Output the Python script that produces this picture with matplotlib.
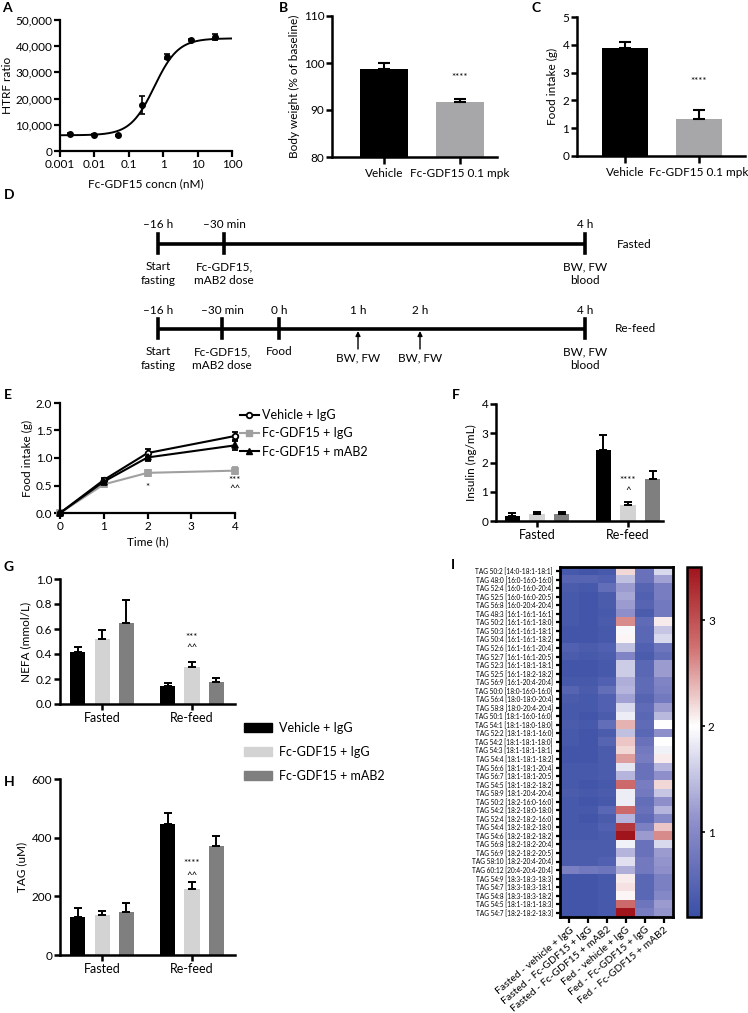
import numpy as np
import matplotlib.pyplot as plt
from matplotlib.colors import LinearSegmentedColormap, Normalize
from matplotlib.ticker import FuncFormatter
from matplotlib.lines import Line2D
from matplotlib.patches import Patch

plt.rcParams['font.family'] = ['Lato', 'DejaVu Sans']
plt.rcParams['font.size'] = 8.5

# ---------------- data ----------------
# A: HTRF dose response
conc_nM = [0.002, 0.01, 0.05, 0.25, 1.25, 6.25, 31.25]
htrf = [6500, 6200, 6000, 17500, 36000, 42500, 43500]
htrf_err = [300, 200, 200, 3500, 1000, 300, 1000]
fit_bottom, fit_top, fit_ec50, fit_hill = 6000, 43000, 0.55, 1.25

# B, C: body weight and food intake
bc_groups = ['Vehicle', 'Fc-GDF15 0.1 mpk']
body_weight = [98.7, 91.7]
body_weight_err = [1.3, 0.6]
food_intake = [3.9, 1.33]
food_intake_err = [0.2, 0.33]

# D: timeline labels
fasted_top = ['\u201316 h', '\u201330 min', '4 h']
fasted_bottom = ['Start\nfasting', 'Fc-GDF15,\nmAB2 dose', 'BW, FW\nblood']
refeed_top = ['\u201316 h', '\u201330 min', '0 h', '1 h', '2 h', '4 h']
refeed_bottom = ['Start\nfasting', 'Fc-GDF15,\nmAB2 dose', 'Food', 'BW, FW', 'BW, FW', 'BW, FW\nblood']

# E: food intake over time
time_h = [0, 1, 2, 4]
treatments = ['Vehicle + IgG', 'Fc-GDF15 + IgG', 'Fc-GDF15 + mAB2']
fi_vehicle = [0, 0.60, 1.09, 1.40]
fi_vehicle_err = [0, 0.04, 0.07, 0.08]
fi_gdf15 = [0, 0.52, 0.73, 0.77]
fi_gdf15_err = [0, 0.05, 0.06, 0.06]
fi_mab2 = [0, 0.57, 1.01, 1.23]
fi_mab2_err = [0, 0.04, 0.07, 0.08]

# F, G, H: grouped bars (Fasted, Re-feed) x treatments
conditions = ['Fasted', 'Re-feed']
insulin = [[0.18, 2.43], [0.25, 0.55], [0.25, 1.45]]
insulin_err = [[0.10, 0.50], [0.07, 0.10], [0.07, 0.25]]
nefa = [[0.415, 0.145], [0.52, 0.295], [0.65, 0.175]]
nefa_err = [[0.04, 0.025], [0.07, 0.045], [0.18, 0.03]]
tag = [[130, 447], [135, 225], [148, 370]]
tag_err = [[30, 38], [15, 25], [30, 35]]

# I: heatmap
tag_species = [
    'TAG 50:2 [14:0-18:1-18:1]', 'TAG 48:0 [16:0-16:0-16:0]', 'TAG 52:4 [16:0-16:0-20:4]',
    'TAG 52:5 [16:0-16:0-20:5]', 'TAG 56:8 [16:0-20:4-20:4]', 'TAG 48:3 [16:1-16:1-16:1]',
    'TAG 50:2 [16:1-16:1-18:0]', 'TAG 50:3 [16:1-16:1-18:1]', 'TAG 50:4 [16:1-16:1-18:2]',
    'TAG 52:6 [16:1-16:1-20:4]', 'TAG 52:7 [16:1-16:1-20:5]', 'TAG 52:3 [16:1-18:1-18:1]',
    'TAG 52:5 [16:1-18:2-18:2]', 'TAG 56:9 [16:1-20:4-20:4]', 'TAG 50:0 [18:0-16:0-16:0]',
    'TAG 56:4 [18:0-18:0-20:4]', 'TAG 58:8 [18:0-20:4-20:4]', 'TAG 50:1 [18:1-16:0-16:0]',
    'TAG 54:1 [18:1-18:0-18:0]', 'TAG 52:2 [18:1-18:1-16:0]', 'TAG 54:2 [18:1-18:1-18:0]',
    'TAG 54:3 [18:1-18:1-18:1]', 'TAG 54:4 [18:1-18:1-18:2]', 'TAG 56:6 [18:1-18:1-20:4]',
    'TAG 56:7 [18:1-18:1-20:5]', 'TAG 54:5 [18:1-18:2-18:2]', 'TAG 58:9 [18:1-20:4-20:4]',
    'TAG 50:2 [18:2-16:0-16:0]', 'TAG 54:2 [18:2-18:0-18:0]', 'TAG 52:4 [18:2-18:2-16:0]',
    'TAG 54:4 [18:2-18:2-18:0]', 'TAG 54:6 [18:2-18:2-18:2]', 'TAG 56:8 [18:2-18:2-20:4]',
    'TAG 56:9 [18:2-18:2-20:5]', 'TAG 58:10 [18:2-20:4-20:4]', 'TAG 60:12 [20:4-20:4-20:4]',
    'TAG 54:9 [18:3-18:3-18:3]', 'TAG 54:7 [18:3-18:3-18:1]', 'TAG 54:8 [18:3-18:3-18:2]',
    'TAG 54:5 [18:1-18:1-18:3]', 'TAG 54:7 [18:2-18:2-18:3]']
heat_groups = ['Fasted - vehicle + IgG', 'Fasted - Fc-GDF15 + IgG', 'Fasted - Fc-GDF15 + mAB2',
               'Fed - vehicle + IgG', 'Fed - Fc-GDF15 + IgG', 'Fed - Fc-GDF15 + mAB2']
h_fast_veh = [0.35, 0.50, 0.40, 0.35, 0.35, 0.35, 0.35, 0.30, 0.30, 0.45, 0.40, 0.30, 0.30, 0.35,
              0.50, 0.40, 0.35, 0.35, 0.40, 0.35, 0.35, 0.30, 0.30, 0.35, 0.35, 0.35, 0.40, 0.35,
              0.35, 0.35, 0.35, 0.35, 0.40, 0.40, 0.40, 0.90, 0.30, 0.30, 0.30, 0.30, 0.30]
h_fast_gdf = [0.30, 0.50, 0.35, 0.30, 0.30, 0.30, 0.30, 0.30, 0.30, 0.40, 0.35, 0.30, 0.30, 0.35,
              0.40, 0.35, 0.35, 0.30, 0.35, 0.30, 0.30, 0.30, 0.30, 0.35, 0.35, 0.30, 0.35, 0.30,
              0.35, 0.30, 0.35, 0.35, 0.40, 0.40, 0.40, 0.80, 0.30, 0.30, 0.30, 0.30, 0.30]
h_fast_mab = [0.35, 0.45, 0.65, 0.40, 0.40, 0.35, 0.40, 0.35, 0.35, 0.45, 0.40, 0.35, 0.35, 0.45,
              0.65, 0.45, 0.45, 0.40, 0.65, 0.40, 0.50, 0.40, 0.40, 0.40, 0.40, 0.35, 0.40, 0.35,
              0.55, 0.40, 0.45, 0.40, 0.40, 0.40, 0.45, 0.75, 0.35, 0.35, 0.35, 0.35, 0.35]
h_fed_veh = [2.20, 1.50, 1.20, 1.30, 1.20, 1.10, 2.60, 1.95, 2.05, 1.50, 0.95, 1.60, 1.60, 1.35,
             1.40, 1.25, 1.70, 1.85, 2.40, 1.50, 2.30, 2.20, 2.50, 1.80, 1.40, 2.80, 1.85, 1.85,
             2.80, 1.40, 3.20, 3.50, 1.90, 1.40, 1.75, 1.35, 2.10, 2.15, 2.05, 2.80, 3.50]
h_fed_gdf = [0.70, 0.70, 0.50, 0.45, 0.50, 0.40, 0.60, 0.55, 0.55, 0.45, 0.40, 0.55, 0.55, 0.60,
             0.60, 0.50, 0.60, 0.55, 0.60, 0.55, 0.70, 0.80, 0.85, 0.70, 0.70, 0.85, 0.80, 0.65,
             0.70, 0.60, 0.90, 1.20, 0.70, 0.70, 0.80, 0.80, 0.55, 0.55, 0.55, 0.75, 0.85]
h_fed_mab = [1.70, 1.25, 0.85, 0.85, 0.80, 0.80, 2.10, 1.55, 1.70, 0.75, 0.65, 1.20, 1.20, 0.95,
             0.90, 0.80, 1.20, 1.45, 2.00, 1.10, 2.00, 1.90, 2.10, 1.40, 1.10, 2.20, 1.55, 1.10,
             1.40, 1.00, 2.30, 2.60, 1.70, 1.20, 1.15, 1.10, 0.90, 0.90, 1.00, 1.20, 1.15]

# ---------------- figure ----------------
W, H = 748, 1013
fig = plt.figure(figsize=(W / 100, H / 100), dpi=100)
TICK_FS = 8.5
LAB_FS = 8.5
STAR_FS = 7

def add_ax(x0, y0, x1, y1):
    return fig.add_axes([x0 / W, 1 - y1 / H, (x1 - x0) / W, (y1 - y0) / H])

def style(ax, lw=1.6):
    for s in ['top', 'right']:
        ax.spines[s].set_visible(False)
    for s in ['left', 'bottom']:
        ax.spines[s].set_linewidth(lw)
    ax.tick_params(width=lw, length=4, labelsize=TICK_FS, pad=1.5)

def letter(x, y, s):
    fig.text(x / W, 1 - y / H, s, fontsize=10, fontweight='bold', va='center', ha='left')

bar_colors = ['#000000', '#d3d3d3', '#7f7f7f']

# ---- A ----
ax = add_ax(60, 20, 232, 151)
style(ax)
xs = np.logspace(-3, 2, 300)
ax.plot(xs, fit_bottom + (fit_top - fit_bottom) / (1 + (fit_ec50 / xs) ** fit_hill),
        color='black', lw=1.4)
ax.errorbar(conc_nM, htrf, yerr=htrf_err, fmt='o', color='black', ms=4, capsize=2.5,
            elinewidth=1.2, capthick=1.2, clip_on=False)
ax.set_xscale('log')
ax.set_xlim(0.001, 100)
ax.set_ylim(0, 50000)
ax.set_xticks([0.001, 0.01, 0.1, 1, 10, 100])
ax.set_xticklabels(['0.001', '0.01', '0.1', '1', '10', '100'])
ax.minorticks_off()
ax.set_yticks(range(0, 50001, 10000))
ax.yaxis.set_major_formatter(FuncFormatter(lambda v, p: f'{int(v):,}'))
ax.set_ylabel('HTRF ratio', fontsize=LAB_FS, labelpad=2)
ax.set_xlabel('Fc-GDF15 concn (nM)', fontsize=LAB_FS, labelpad=6)
letter(2, 8, 'A')

# ---- B ----
def two_bar(ax, vals, errs, ylim, yticks, ylabel, star_y, xlim):
    style(ax, 1.8)
    ax.bar([0, 1], vals, width=0.63, color=['#000000', '#a7a7a9'])
    ax.errorbar([0, 1], vals, yerr=[[0, 0], errs], fmt='none', ecolor='black',
                capsize=4, elinewidth=1.5, capthick=1.5)
    ax.set_ylim(*ylim)
    ax.set_xlim(*xlim)
    ax.set_yticks(yticks)
    ax.set_xticks([0, 1])
    ax.set_xticklabels(bc_groups, fontsize=LAB_FS)
    ax.tick_params(axis='x', length=5, pad=3)
    ax.set_ylabel(ylabel, fontsize=LAB_FS, labelpad=3)
    ax.text(1, star_y, '****', ha='center', va='center', fontsize=STAR_FS)

ax = add_ax(332, 16, 497, 157)
two_bar(ax, body_weight, body_weight_err, (80, 110), [80, 90, 100, 110],
        'Body weight (% of baseline)', 97.0, (-0.684, 1.49))
letter(279, 8, 'B')

# ---- C ----
ax = add_ax(577, 17, 745, 156)
two_bar(ax, food_intake, food_intake_err, (0, 5), [0, 1, 2, 3, 4, 5],
        'Food intake (g)', 2.68, (-0.65, 1.62))
letter(531, 8, 'C')

# ---- D ----
ax = add_ax(0, 170, 748, 370)
ax.set_xlim(0, W)
ax.set_ylim(370, 170)
ax.axis('off')
letter(4, 195, 'D')
lw_t = 2.6
dfs = 8.5
# fasted line
fx = [158, 224, 585]
ax.plot([fx[0], fx[-1]], [244, 244], color='black', lw=lw_t, solid_capstyle='butt')
for i, x in enumerate(fx):
    ax.plot([x, x], [234, 253], color='black', lw=lw_t)
    ax.text(x, 225, fasted_top[i], ha='center', va='center', fontsize=dfs)
    ax.text(x, 261, fasted_bottom[i], ha='center', va='top', fontsize=dfs, linespacing=1.3)
ax.text(634, 244, 'Fasted', ha='center', va='center', fontsize=dfs)
# re-feed line
rx = [158, 222, 279, 358, 420, 585]
ax.plot([rx[0], rx[-1]], [329, 329], color='black', lw=lw_t, solid_capstyle='butt')
for i, x in enumerate(rx):
    ax.text(x, 310, refeed_top[i], ha='center', va='center', fontsize=dfs)
    if refeed_bottom[i] == 'BW, FW':
        ax.annotate('', xy=(x, 331), xytext=(x, 349),
                    arrowprops=dict(arrowstyle='-|>', color='black', lw=1.0,
                                    mutation_scale=7, shrinkA=0, shrinkB=0))
        ax.text(x, 352, refeed_bottom[i], ha='center', va='top', fontsize=dfs)
    else:
        ax.plot([x, x], [319, 338], color='black', lw=lw_t)
        ax.text(x, 346, refeed_bottom[i], ha='center', va='top', fontsize=dfs, linespacing=1.3)
ax.text(636, 329, 'Re-feed', ha='center', va='center', fontsize=dfs)

# ---- E ----
ax = add_ax(60, 403, 235, 513)
style(ax)
series = [(fi_gdf15, fi_gdf15_err, '#a0a0a0', 's', '#a0a0a0'),
          (fi_vehicle, fi_vehicle_err, 'black', 'o', 'white'),
          (fi_mab2, fi_mab2_err, 'black', '^', 'black')]
for vals, errs, c, m, fc in series:
    eb = ax.errorbar(time_h, vals, yerr=errs, color=c, marker=m, mfc=fc, mec=c, ms=4,
                     lw=1.5, capsize=2.5, elinewidth=1.2, capthick=1.2, clip_on=False, mew=1.3)
    for a in eb.get_children():
        a.set_clip_on(False)
ax.set_xlim(0, 4)
ax.set_ylim(0, 2)
ax.set_xticks([0, 1, 2, 3, 4])
ax.set_yticks([0, 0.5, 1.0, 1.5, 2.0])
ax.yaxis.set_major_formatter(FuncFormatter(lambda v, p: f'{v:.1f}'))
ax.set_ylabel('Food intake (g)', fontsize=LAB_FS, labelpad=2)
ax.set_xlabel('Time (h)', fontsize=LAB_FS, labelpad=3)
ax.text(2, 0.47, '*', ha='center', va='center', fontsize=STAR_FS)
ax.text(4, 0.59, '***', ha='center', va='center', fontsize=STAR_FS)
ax.text(4, 0.45, '^^', ha='center', va='center', fontsize=STAR_FS)
leg_handles = [Line2D([], [], color='black', marker='o', mfc='white', ms=4, lw=1.5, mew=1.3),
               Line2D([], [], color='#a0a0a0', marker='s', ms=4, lw=1.5),
               Line2D([], [], color='black', marker='^', ms=4, lw=1.5)]
fig.legend(leg_handles, treatments, loc='upper left', bbox_to_anchor=(240 / W, 1 - 409 / H),
           frameon=False, fontsize=9, handlelength=1.5, handletextpad=0.3, labelspacing=0.5,
           borderaxespad=0, borderpad=0)
letter(4, 395, 'E')

# ---- F, G, H grouped bars ----
def grouped(ax, vals, errs, ylim, yticks, ylabel, xlim, fmt=None):
    style(ax, 1.8)
    offs = [-0.27, 0, 0.27]
    for i in range(3):
        x = np.arange(2) + offs[i]
        ax.bar(x, vals[i], width=0.167, color=bar_colors[i])
        ax.errorbar(x, vals[i], yerr=[[0, 0], errs[i]], fmt='none', ecolor='black',
                    capsize=3, elinewidth=1.4, capthick=1.4)
    ax.set_xlim(*xlim)
    ax.set_ylim(*ylim)
    ax.set_yticks(yticks)
    if fmt:
        ax.yaxis.set_major_formatter(FuncFormatter(fmt))
    ax.set_xticks([0, 1])
    ax.set_xticklabels(conditions, fontsize=9)
    ax.tick_params(axis='x', length=4, pad=2)
    ax.set_ylabel(ylabel, fontsize=LAB_FS, labelpad=3)

ax = add_ax(496, 404, 663, 521)
grouped(ax, insulin, insulin_err, (0, 4), [0, 1, 2, 3, 4], 'Insulin (ng/mL)', (-0.45, 1.385))
ax.text(1, 1.38, '****', ha='center', va='center', fontsize=STAR_FS)
ax.text(1, 1.05, '^', ha='center', va='center', fontsize=STAR_FS)
letter(452, 395, 'F')

ax = add_ax(60, 579, 235, 704)
grouped(ax, nefa, nefa_err, (0, 1), [0, 0.2, 0.4, 0.6, 0.8, 1.0], 'NEFA (mmol/L)',
        (-0.467, 1.478), fmt=lambda v, p: f'{v:.1f}')
ax.text(1, 0.53, '***', ha='center', va='center', fontsize=STAR_FS)
ax.text(1, 0.45, '^^', ha='center', va='center', fontsize=STAR_FS)
letter(4, 567, 'G')

ax = add_ax(60, 779, 235, 955)
grouped(ax, tag, tag_err, (0, 600), [0, 200, 400, 600], 'TAG (uM)', (-0.467, 1.478))
ax.text(1, 312, '****', ha='center', va='center', fontsize=STAR_FS)
ax.text(1, 270, '^^', ha='center', va='center', fontsize=STAR_FS)
letter(4, 782, 'H')

bar_handles = [Patch(color=c) for c in bar_colors]
fig.legend(bar_handles, treatments, loc='upper left', bbox_to_anchor=(244 / W, 1 - 722 / H),
           frameon=False, fontsize=9, handlelength=2.2, handleheight=0.8, handletextpad=0.6,
           labelspacing=0.95, borderaxespad=0, borderpad=0)

# ---- I heatmap ----
heat = np.column_stack([h_fast_veh, h_fast_gdf, h_fast_mab, h_fed_veh, h_fed_gdf, h_fed_mab])
vmin, vmid, vmax = 0.2, 2.0, 3.5
f = (vmid - vmin) / (vmax - vmin)
cmap = LinearSegmentedColormap.from_list(
    'bwr_custom', [(0, '#3a4fa6'), (f * 0.5, '#8f8fcb'), (f, '#ffffff'),
                   (f + (1 - f) * 0.5, '#d07070'), (1, '#a0141c')])
norm = Normalize(vmin, vmax)
ax = add_ax(560, 567, 673, 917)
im = ax.imshow(heat, cmap=cmap, norm=norm, aspect='auto', interpolation='nearest')
for s in ax.spines.values():
    s.set_linewidth(2.0)
ax.set_yticks(range(len(tag_species)))
ax.set_yticklabels(tag_species, fontsize=4.7)
ax.set_xticks(range(len(heat_groups)))
ax.set_xticklabels(heat_groups, rotation=40, ha='right', rotation_mode='anchor', fontsize=7.5)
ax.tick_params(axis='y', length=3, width=1.6, pad=2)
ax.tick_params(axis='x', length=4, width=1.6, pad=2)
letter(451, 565, 'I')

cax = add_ax(687, 567, 701, 917)
cb = fig.colorbar(im, cax=cax, ticks=[1, 2, 3])
cb.outline.set_linewidth(1.8)
cax.tick_params(length=3, width=1.2, labelsize=TICK_FS, pad=2)

fig.savefig('out.png', dpi=100)
